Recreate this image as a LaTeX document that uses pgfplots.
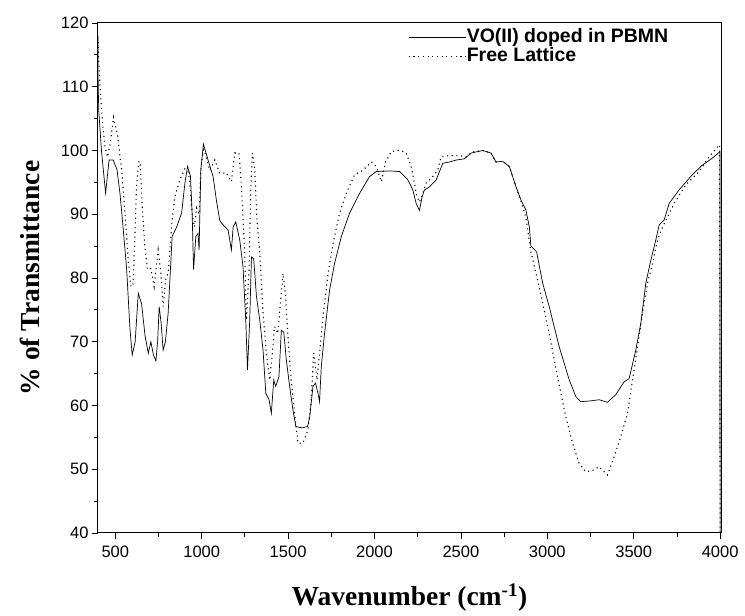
\documentclass[border=0pt]{standalone}
\usepackage{pgfplots}
\pgfplotsset{compat=1.18}
\usepackage{fontspec}
\setmainfont{Liberation Sans}
\newfontfamily\timesfont{Liberation Serif}
\begin{document}
\begin{tikzpicture}
\begin{axis}[
  scale only axis, width=623pt, height=510pt,
  xmin=400, xmax=4005, ymin=40, ymax=120,
  xtick={500,1000,...,4000}, ytick={40,50,...,120},
  minor x tick num=1, minor y tick num=1,
  tick pos=left, tick align=outside,
  major tick length=6pt, minor tick length=4pt,
  every tick/.style={black, line width=0.8pt},
  axis line style={line width=1pt},
  ticklabel style={font=\fontsize{16.5}{16.5}\selectfont},
  xticklabel style={yshift=-3pt},
  /pgf/number format/assume math mode=true,
  /pgf/number format/1000 sep={},
  xlabel={\timesfont\bfseries Wavenumber (cm\textsuperscript{-1})},
  ylabel={\timesfont\bfseries \% of Transmittance},
  label style={font=\fontsize{27.5}{27.5}\selectfont},
  xlabel style={at={(axis description cs:0.5,-0.127)}, anchor=center},
  ylabel style={at={(axis description cs:-0.109,0.5)}, anchor=center},
  legend style={draw=none, fill=none, at={(axis description cs:0.4976,0.991)}, anchor=north west,
    font=\bfseries\fontsize{19.5}{19.5}\selectfont, row sep=0pt, inner sep=0pt,
    nodes={inner sep=0.5pt, text height=14pt, text depth=4pt}},
  legend cell align=left,
  legend image code/.code={\draw[#1] (0pt,0pt) -- (51pt,0pt); \path (0pt,0pt) -- (57pt,0pt);},
]
\addplot[black, line width=0.7pt] coordinates {
(400,118) (401,110) (405,106) (420,100) (444,93.3) (464,98.5) (488,98.5) (510,97) (527,93.3)
(545,88) (566,81.3) (585,72) (598,67.9) (615,70) (633,77.6) (652,76) (672,71) (691,68.2)
(706,70.0) (720,68) (735,67) (745,70) (754,75.5) (765,73) (777,68.7) (790,70) (806,74.5)
(829,86.5) (855,88.0) (884,90.2) (903,94.9) (918,97.5) (935,96) (945,90) (953,81.3) (966,86.5)
(979,87) (985,84.4) (995,96.9) (1010,101) (1037,98.5) (1066,95.9) (1085,92.2) (1105,89)
(1115,88.6) (1153,87.5) (1172,84.4) (1182,88) (1197,88.8) (1220,86) (1239,81.8) (1255,73.4)
(1265,65.6) (1278,73.4) (1288,83.3) (1301,83) (1317,77.1) (1336,73.4) (1355,68.7) (1371,61.9)
(1390,60.9) (1403,58.8) (1417,64) (1428,63) (1447,64.5) (1461,71.8) (1475,71.5) (1490,67.1)
(1509,63) (1528,59.3) (1545,56.7) (1580,56.5) (1613,56.7) (1625,58.2) (1644,63) (1659,63.5)
(1673,61.9) (1682,60.6) (1692,66.1) (1711,71.3) (1740,78.1) (1769,82.3) (1808,86.5)
(1856,90.2) (1914,93.3) (1971,95.9) (2010,96.7) (2087,96.8) (2145,96.7) (2193,95.4)
(2222,93.8) (2241,91.7) (2260,90.6) (2276,92.8) (2289,93.8) (2318,94.3) (2357,95.4)
(2376,96.7) (2395,98) (2434,98.2) (2472,98.5) (2520,98.7) (2559,99.6) (2626,100) (2674,99.6)
(2703,98.2) (2741,98.3) (2780,97.5) (2819,94.3) (2848,92.2) (2876,90.7) (2896,88) (2905,85)
(2938,84.1) (2973,79.2) (3011,75.5) (3069,69.2) (3127,64) (3165,61.4) (3194,60.6) (3242,60.7)
(3300,60.9) (3348,60.5) (3396,61.7) (3444,63.7) (3473,64.2) (3512,68.7) (3541,72.9)
(3570,79.2) (3599,82.8) (3628,86) (3647,88.3) (3676,89.1) (3705,91.7) (3762,93.8)
(3839,96.2) (3897,97.7) (3955,98.8) (3999,99.8) (4000,40)
};
\addlegendentry{VO(II) doped in PBMN}
\addplot[black, line width=1.1pt, dash pattern=on 1.1pt off 3.6pt] coordinates {
(400,117) (402,115.8) (412,110) (425,104.8) (440,100.6) (455,99) (470,101) (490,105.2)
(514,102.2) (537,96.9) (556,90.2) (575,82.8) (591,78.6) (602,79) (610,83.9) (623,94.3)
(636,98.3) (644,98) (656,91.2) (671,84.9) (687,81.3) (706,81.5) (725,78.6) (748,84.4)
(764,80.8) (777,75.5) (791,79.7) (806,80.8) (829,89.1) (845,92.8) (874,95.4) (903,97.2)
(918,97.5) (931,94.9) (945,90) (958,88) (970,91) (985,90) (995,97) (1010,100.5) (1030,98.5)
(1047,96.9) (1076,98.5) (1105,96.4) (1143,96.5) (1172,95.1) (1191,99.6) (1216,99.6)
(1230,94.3) (1249,83.9) (1259,73.4) (1274,81.3) (1284,94.3) (1294,99.6) (1307,97) (1320,89.1)
(1336,83.9) (1355,74.5) (1374,68.2) (1394,64) (1409,68.2) (1422,72.4) (1441,71.3) (1455,76)
(1471,80.7) (1486,77) (1499,70.8) (1518,64) (1538,58.8) (1557,54.1) (1586,54.1) (1615,56.2)
(1634,60.9) (1648,68.2) (1659,66) (1667,64) (1678,67) (1702,73.9) (1731,80.7) (1760,85.4)
(1798,90.2) (1837,93.3) (1885,96.2) (1933,96.9) (1982,98.2) (2010,97.5) (2040,95.1)
(2064,98.2) (2097,99.8) (2125,100) (2155,100) (2183,99.6) (2212,97.5) (2231,94.9)
(2245,92.8) (2260,91.9) (2276,93) (2299,94.9) (2337,95.9) (2366,96.9) (2385,99) (2434,99.2)
(2491,99.2) (2530,99) (2568,99.8) (2626,100) (2674,99.6) (2703,98.2) (2741,98.3) (2780,97.5)
(2819,94.3) (2848,92) (2876,89.5) (2905,84.1) (2953,78.6) (3011,71.3) (3059,64.5)
(3107,58.2) (3146,54.1) (3184,50.9) (3223,49.6) (3261,49.8) (3300,50.4) (3348,49.1)
(3387,52) (3425,55.1) (3464,58.8) (3493,64) (3522,69.2) (3551,74.5) (3580,79.2) (3609,82.3)
(3638,86) (3667,88) (3696,89.6) (3734,91.7) (3801,94.6) (3878,96.7) (3936,99) (3997,100.9)
(4000,40)
};
\addlegendentry{Free Lattice}
\end{axis}
\path (current axis.south west) ++(-98pt,-83pt) rectangle ++(745pt,616pt);
\end{tikzpicture}
\end{document}
